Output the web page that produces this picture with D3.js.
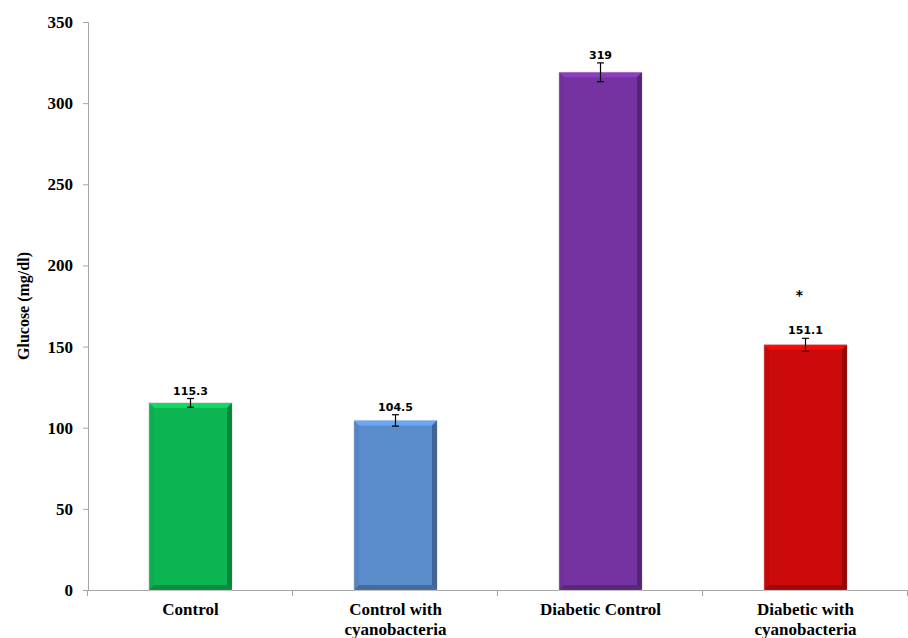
<!DOCTYPE html>
<html>
<head>
<meta charset="utf-8">
<script src="https://cdn.jsdelivr.net/npm/d3@7"></script>
<style>
  html, body { margin: 0; padding: 0; background: #fff; }
  svg { display: block; }
</style>
</head>
<body>
<svg id="chart" width="908" height="638"></svg>
<script>
// Blood glucose per group
const categories = [["Control"], ["Control with", "cyanobacteria"], ["Diabetic Control"], ["Diabetic with", "cyanobacteria"]];
const glucose = [115.3, 104.5, 319, 151.1];
const errors = [2.7, 3.5, 5.8, 4.0];
const barColors = ["#0cb552", "#5a8bcb", "#7433a0", "#cc0a0a"];
const significance = ["", "", "", "*"];
const yTicks = [0, 50, 100, 150, 200, 250, 300, 350];

const svg = d3.select("#chart");
const margin = { left: 88, right: 0, top: 22, bottom: 48 };
const W = 908, H = 638;

const x = d3.scaleBand()
  .domain(d3.range(categories.length))
  .range([margin.left, W - margin.right])
  .paddingInner(0.595)
  .paddingOuter(0.2975);

const y = d3.scaleLinear().domain([0, 350]).range([H - margin.bottom, margin.top]);

const axisColor = "#a6a6a6";

// Y axis
const yAxis = svg.append("g")
  .attr("transform", `translate(${margin.left},0)`)
  .call(d3.axisLeft(y).tickValues(yTicks).tickSize(5).tickPadding(10));
yAxis.select(".domain").attr("stroke", axisColor);
yAxis.selectAll(".tick line").attr("stroke", axisColor);
yAxis.selectAll(".tick text")
  .attr("font-family", "'Liberation Serif', 'Times New Roman', serif")
  .attr("font-weight", "bold")
  .attr("font-size", 17)
  .attr("fill", "#000");

// X axis with ticks at band boundaries
const xBase = y(0);
svg.append("line")
  .attr("x1", margin.left).attr("x2", W - margin.right)
  .attr("y1", xBase + 0.5).attr("y2", xBase + 0.5)
  .attr("stroke", axisColor);
const step = x.step();
d3.range(categories.length + 1).forEach(i => {
  const tx = Math.round(margin.left + i * step) - 0.5;
  svg.append("line")
    .attr("x1", tx).attr("x2", tx)
    .attr("y1", xBase).attr("y2", xBase + 6)
    .attr("stroke", axisColor);
});

// Bevelled bars
const bevel = 5;
const bars = svg.append("g");
glucose.forEach((v, i) => {
  const x0 = x(i), w = x.bandwidth(), y0 = y(v), y1 = y(0);
  const c = d3.color(barColors[i]);
  const g = bars.append("g");
  g.append("rect")
    .attr("x", x0).attr("y", y0).attr("width", w).attr("height", y1 - y0)
    .attr("fill", c.formatHex())
    .attr("stroke", "#d9d9d9").attr("stroke-width", 1);
  const x1 = x0 + w;
  const poly = (pts, fill, op) => g.append("polygon")
    .attr("points", pts.map(p => p.join(",")).join(" "))
    .attr("fill", fill).attr("opacity", op);
  // top face (lighter)
  poly([[x0, y0], [x1, y0], [x1 - bevel, y0 + bevel], [x0 + bevel, y0 + bevel]], c.brighter(0.6).formatHex(), 0.85);
  // left face
  poly([[x0, y0], [x0 + bevel, y0 + bevel], [x0 + bevel, y1 - bevel], [x0, y1]], c.darker(0.2).formatHex(), 0.6);
  // right face (darker)
  poly([[x1, y0], [x1, y1], [x1 - bevel, y1 - bevel], [x1 - bevel, y0 + bevel]], c.darker(1.0).formatHex(), 0.9);
  // bottom face (darker)
  poly([[x0, y1], [x1, y1], [x1 - bevel, y1 - bevel], [x0 + bevel, y1 - bevel]], c.darker(0.8).formatHex(), 0.9);
});

// Error bars
const eb = svg.append("g").attr("stroke", "#000").attr("stroke-width", 1.2);
glucose.forEach((v, i) => {
  const cx = x(i) + x.bandwidth() / 2;
  const top = y(v + errors[i]), bot = y(v - errors[i]);
  eb.append("line").attr("x1", cx).attr("x2", cx).attr("y1", top).attr("y2", bot);
  eb.append("line").attr("x1", cx - 3.5).attr("x2", cx + 3.5).attr("y1", top).attr("y2", top);
  eb.append("line").attr("x1", cx - 3.5).attr("x2", cx + 3.5).attr("y1", bot).attr("y2", bot);
});

// Value labels
svg.append("g").selectAll("text").data(glucose).join("text")
  .attr("x", (d, i) => x(i) + x.bandwidth() / 2)
  .attr("y", (d, i) => y(d + errors[i]) - 4)
  .attr("text-anchor", "middle")
  .attr("font-family", "'DejaVu Sans', Verdana, sans-serif")
  .attr("font-weight", "bold")
  .attr("font-size", 11)
  .attr("fill", "#000")
  .text(d => d3.format("")(d));

// Significance markers
svg.append("g").selectAll("text").data(significance).join("text")
  .attr("x", (d, i) => x(i) + x.bandwidth() / 2 - 6)
  .attr("y", (d, i) => y(glucose[i] + errors[i]) - 38)
  .attr("text-anchor", "middle")
  .attr("font-family", "'DejaVu Sans', sans-serif")
  .attr("font-weight", "bold")
  .attr("font-size", 14)
  .text(d => d);

// Category labels
const catG = svg.append("g");
categories.forEach((lines, i) => {
  const t = catG.append("text")
    .attr("x", x(i) + x.bandwidth() / 2)
    .attr("y", xBase + 25)
    .attr("text-anchor", "middle")
    .attr("font-family", "'Liberation Serif', 'Times New Roman', serif")
    .attr("font-weight", "bold")
    .attr("font-size", 17)
    .attr("fill", "#000");
  lines.forEach((ln, k) => {
    t.append("tspan").attr("x", x(i) + x.bandwidth() / 2).attr("dy", k === 0 ? 0 : 20).text(ln);
  });
});

// Y axis title
svg.append("text")
  .attr("transform", `translate(29,${(y(0) + y(350)) / 2}) rotate(-90)`)
  .attr("text-anchor", "middle")
  .attr("font-family", "'Liberation Serif', 'Times New Roman', serif")
  .attr("font-weight", "bold")
  .attr("font-size", 16)
  .attr("fill", "#000")
  .text("Glucose (mg/dl)");
</script>
</body>
</html>
